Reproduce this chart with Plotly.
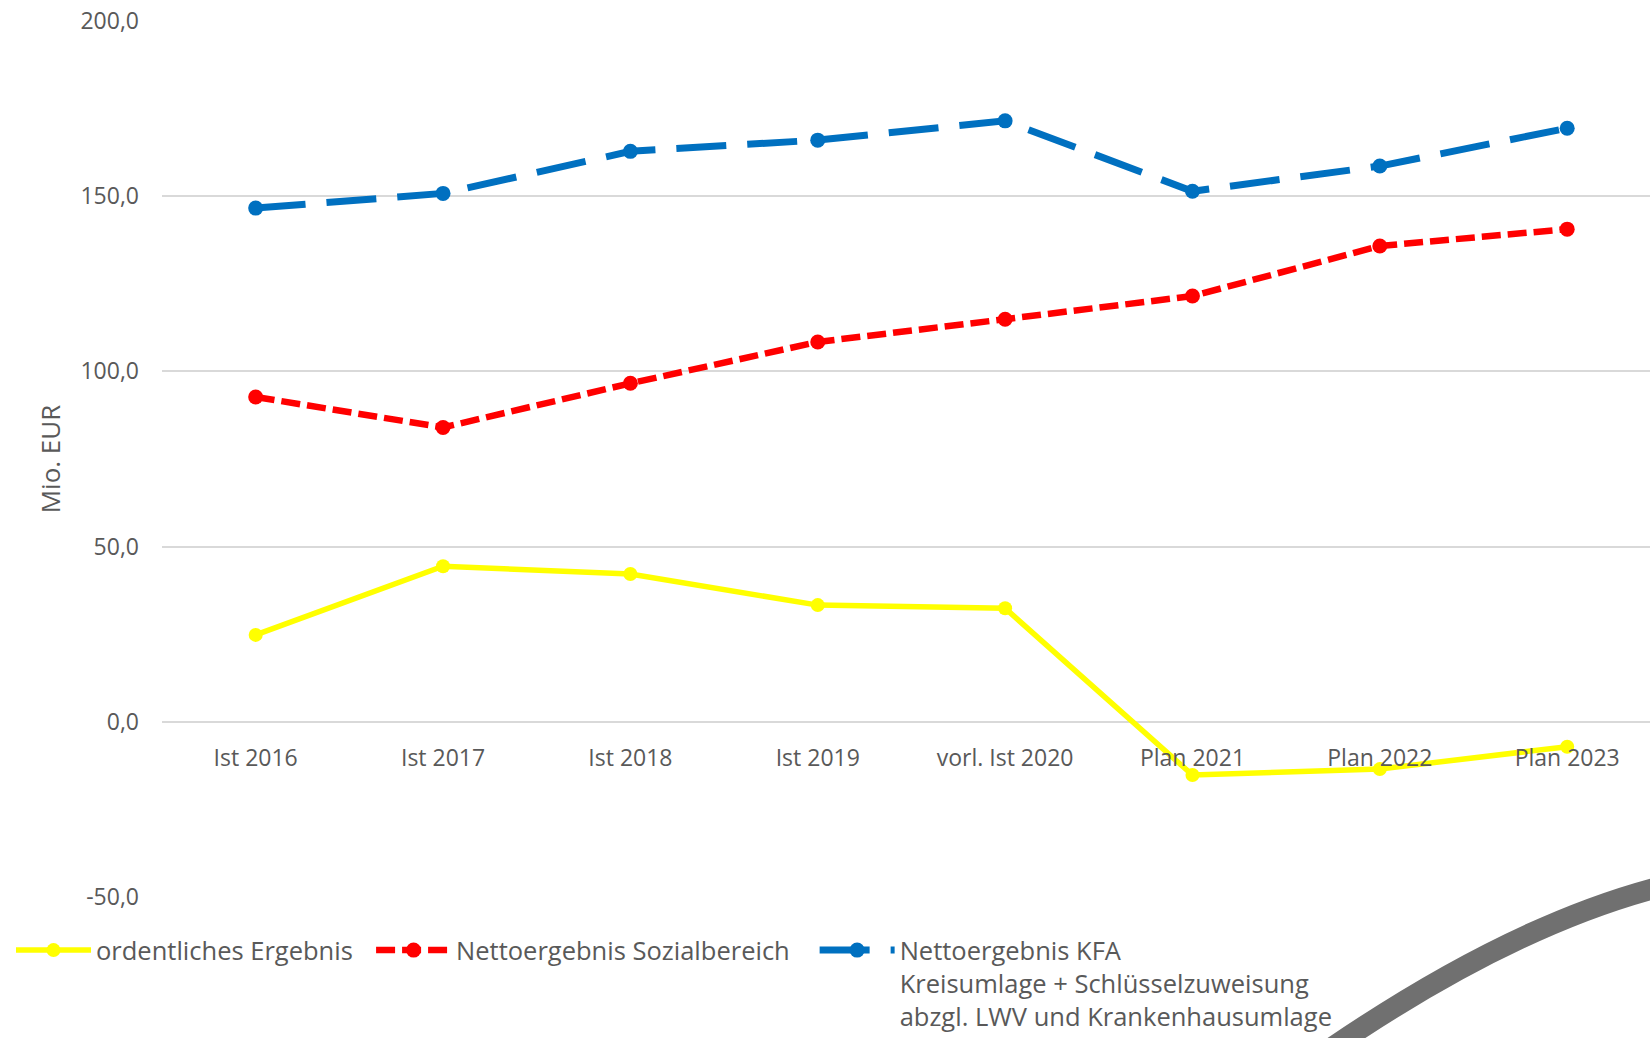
import plotly.graph_objects as go

categories = ["Ist 2016", "Ist 2017", "Ist 2018", "Ist 2019", "vorl. Ist 2020",
              "Plan 2021", "Plan 2022", "Plan 2023"]
ordentliches = [24.8, 44.4, 42.2, 33.3, 32.4, -15.2, -13.5, -7.1]
sozial = [92.7, 84.0, 96.6, 108.4, 114.9, 121.5, 135.8, 140.6]
kfa = [146.6, 150.8, 162.8, 166.0, 171.5, 151.4, 158.6, 169.4]
y_ticks = [-50, 0, 50, 100, 150, 200]
y_ticktext = ["-50,0", "0,0", "50,0", "100,0", "150,0", "200,0"]

FONT = "Open Sans"
GRAY = "#595959"
GRID = "#d9d9d9"
NB = "\u00a0"

fig = go.Figure()
fig.add_trace(go.Scatter(
    x=categories, y=ordentliches, name="ordentliches Ergebnis" + NB * 2,
    mode="lines+markers",
    line=dict(color="#ffff00", width=5.5),
    marker=dict(color="#ffff00", size=14),
))
fig.add_trace(go.Scatter(
    x=categories, y=sozial, name="Nettoergebnis Sozialbereich" + NB * 3,
    mode="lines+markers",
    line=dict(color="#ff0000", width=6.5, dash="19px,7px"),
    marker=dict(color="#ff0000", size=15),
))
fig.add_trace(go.Scatter(
    x=categories, y=kfa,
    name="Nettoergebnis KFA<br>Kreisumlage + Schlüsselzuweisung<br>abzgl. LWV und Krankenhausumlage",
    mode="lines+markers",
    line=dict(color="#0070c0", width=7, dash="50px,21px"),
    marker=dict(color="#0070c0", size=15),
))

# plot area in pixels
L, R, T, B = 162, 1650, 21, 897
W_PLOT, H_PLOT = R - L, B - T

def px(x):
    return (x - L) / W_PLOT

def py(y):
    return (B - y) / H_PLOT

# decorative gray arc at the bottom right
fig.add_shape(
    type="path", xref="paper", yref="paper",
    path=f"M {px(1680):.4f} {py(882):.4f} Q {px(1510):.4f} {py(920):.4f} {px(1297):.4f} {py(1072):.4f}",
    line=dict(color="#707070", width=21),
    layer="above",
)

fig.update_layout(
    width=1650, height=1038,
    margin=dict(l=L, r=0, t=T, b=1038 - B, pad=0, autoexpand=False),
    paper_bgcolor="white", plot_bgcolor="white",
    font=dict(family=FONT, size=23, color=GRAY),
    showlegend=True,
    legend=dict(
        orientation="h", x=px(11), xanchor="left", y=py(927), yanchor="top",
        font=dict(family=FONT, size=25.5, color=GRAY),
        valign="top", itemwidth=75, tracegroupgap=0,
        bgcolor="rgba(0,0,0,0)",
    ),
    xaxis=dict(
        type="category", categoryorder="array", categoryarray=categories,
        range=[-0.5, 7.442], anchor="free", position=0.2,
        showgrid=False, showline=False, zeroline=False, ticks="",
        tickfont=dict(family=FONT, size=23, color=GRAY),
        ticklabelstandoff=20,
    ),
    yaxis=dict(
        range=[-50, 200], tickvals=y_ticks, ticktext=y_ticktext,
        showgrid=True, gridcolor=GRID, gridwidth=2,
        zeroline=False, showline=False, ticks="",
        tickfont=dict(family=FONT, size=23, color=GRAY),
        ticklabelstandoff=22,
        title=dict(text="Mio. EUR", font=dict(family=FONT, size=26, color=GRAY), standoff=12),
    ),
)

fig.write_html(
    "out.html",
    config={"displayModeBar": False},
    post_script="document.body.style.margin='0';document.body.style.overflow='hidden';",
)
